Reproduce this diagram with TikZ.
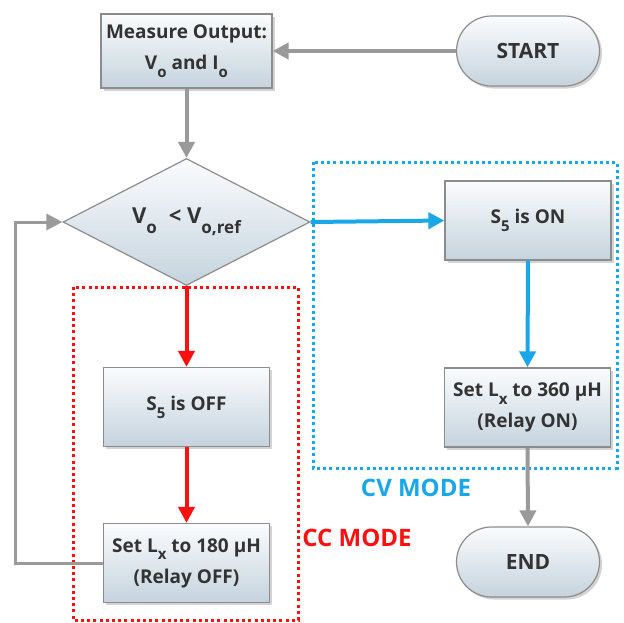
\documentclass[tikz,border=0pt]{standalone}
\usepackage{fontspec}
\setmainfont{Open Sans}
\usetikzlibrary{arrows.meta,shapes.geometric,shadows}
\definecolor{boxtop}{HTML}{FAFCFD}
\definecolor{boxbot}{HTML}{C5D3DE}
\definecolor{edge}{HTML}{8C8C8C}
\definecolor{flowgray}{HTML}{9A9A9A}
\definecolor{cvblue}{HTML}{1AA7E8}
\definecolor{ccred}{HTML}{FF1010}
\newcommand{\lowsub}[1]{\raisebox{-0.75ex}{\fontsize{15}{15}\selectfont #1}}
\newcommand{\bigsub}[1]{\raisebox{-0.8ex}{\fontsize{17}{17}\selectfont #1}}
\begin{document}
\begin{tikzpicture}[x=1pt,y=-1pt,
  every node/.style={font=\fontsize{19}{31}\selectfont\bfseries, text=black!80},
  stepbox/.style={rectangle, draw=edge, line width=1.2pt, top color=boxtop, bottom color=boxbot,
    minimum width=166pt, minimum height=79pt, align=center, inner sep=2pt,
    drop shadow={opacity=0.35, shadow xshift=2.5pt, shadow yshift=-2.5pt}},
  termbox/.style={rectangle, rounded corners=35pt, draw=edge, line width=1.2pt,
    top color=boxtop, bottom color=boxbot, minimum width=143pt, minimum height=70pt,
    font=\fontsize{21}{25}\selectfont\bfseries,
    drop shadow={opacity=0.35, shadow xshift=2.5pt, shadow yshift=-2.5pt}},
  decbox/.style={diamond, draw=edge, line width=1.2pt, top color=boxtop, bottom color=boxbot,
    minimum width=247pt, minimum height=127pt, inner sep=0pt},
  dectext/.style={font=\fontsize{22}{26}\selectfont\bfseries, inner sep=0pt},
  flow/.style={line width=4pt, -{Triangle[length=16pt,width=16pt]}},
  modebox/.style={line width=3pt, dash pattern=on 3pt off 3.2pt},
  modelabel/.style={font=\fontsize{24}{28}\selectfont\bfseries}
]
\useasboundingbox (0,0) rectangle (624,622);

% mode frames
\draw[modebox, cvblue] (313,162) rectangle (617,468);
\draw[modebox, ccred] (73,287) rectangle (298,620);
\node[modelabel, text=cvblue] (cvlabel) at (416,488) {CV MODE};
\node[modelabel, text=ccred] (cclabel) at (357,538) {CC MODE};

% blocks
\node[stepbox, minimum width=171pt, minimum height=74pt] (measure) at (186.5,51)
  {Measure Output:\\V\lowsub{o} and I\lowsub{o}};
\node[termbox] (start) at (528,51) {START};
\node[decbox] (cmp) at (186.5,222) {};
\node[dectext] (cmptext) at (cmp.center) {V\bigsub{o}\; < V\bigsub{o,ref}};
\node[stepbox] (son) at (528,220.5) {S\lowsub{5} is ON};
\node[stepbox] (l360) at (527.5,407.5) {Set L\lowsub{x} to 360 μH\\(Relay ON)};
\node[termbox] (stop) at (528,562) {END};
\node[stepbox] (soff) at (186.5,407) {S\lowsub{5} is OFF};
\node[stepbox] (l180) at (186.5,563) {Set L\lowsub{x} to 180 μH\\(Relay OFF)};

% connectors
\draw[flow, flowgray] (start.west) -- (measure.east);
\draw[flow, flowgray] (measure.south) -- (cmp.north);
\draw[flow, cvblue] (cmp.east) -- (son.west);
\draw[flow, cvblue] (son.south) -- (l360.north);
\draw[flow, flowgray] (l360.south) -- (stop.north);
\draw[flow, ccred] (cmp.south) -- (soff.north);
\draw[flow, ccred] (soff.south) -- (l180.north);
\coordinate (loopdown) at (15,563);
\coordinate (loopup) at (15,222);
\draw[flow, flowgray, line width=3pt] (l180.west) -- (loopdown) -- (loopup) -- (cmp.west);
\end{tikzpicture}
\end{document}
